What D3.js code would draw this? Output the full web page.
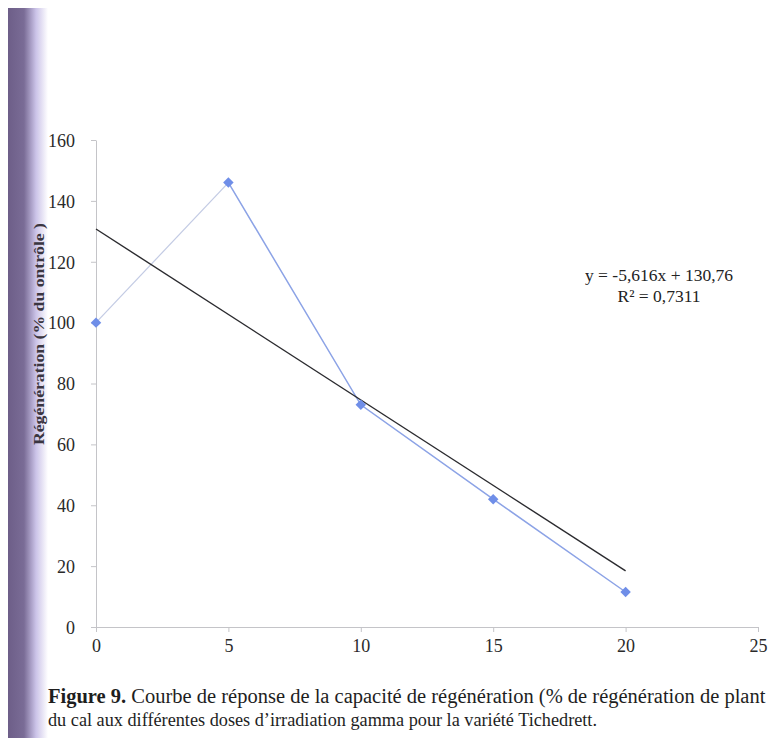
<!DOCTYPE html>
<html>
<head>
<meta charset="utf-8">
<script src="https://cdn.jsdelivr.net/npm/d3@7"></script>
<style>
  body { margin: 0; background: #fff; overflow: hidden; }
  svg { display: block; }
</style>
</head>
<body>
<svg id="chart"></svg>
<script>
// dose (Gy) and regeneration (% of control)
const doses = [0, 5, 10, 15, 20];
const regeneration = [100, 146, 73, 42, 11.5];
const xTicks = [0, 5, 10, 15, 20, 25];
const yTicks = [0, 20, 40, 60, 80, 100, 120, 140, 160];
const slope = -5.616;
const intercept = 130.76;
const equationLines = ["y = -5,616x + 130,76", "R² = 0,7311"];

const width = 768;
const height = 738;
const serif = "'Liberation Serif', 'DejaVu Serif', serif";

const svg = d3.select("#chart").attr("width", width).attr("height", height);

// scan shadow on the left edge
const grad = svg.append("defs").append("linearGradient").attr("id", "band");
grad.append("stop").attr("offset", "0%").attr("stop-color", "#6d5e88");
grad.append("stop").attr("offset", "40%").attr("stop-color", "#7a6c96");
grad.append("stop").attr("offset", "70%").attr("stop-color", "#cbc3e8");
grad.append("stop").attr("offset", "100%").attr("stop-color", "#ffffff");
svg.append("rect")
  .attr("x", 8).attr("y", 8)
  .attr("width", 40).attr("height", height - 8)
  .attr("fill", "url(#band)");

const x = d3.scaleLinear().domain([0, 25]).range([96, 758]);
const y = d3.scaleLinear().domain([0, 160]).range([627, 140]);

const xAxis = d3.axisBottom(x).tickValues(xTicks).tickSize(5).tickSizeOuter(0);
const yAxis = d3.axisLeft(y).tickValues(yTicks).tickSize(5).tickSizeOuter(0);

const gx = svg.append("g")
  .attr("transform", `translate(0, ${y(0)})`)
  .call(xAxis);
const gy = svg.append("g")
  .attr("transform", `translate(${x(0)}, 0)`)
  .call(yAxis);

[gx, gy].forEach(g => {
  g.select(".domain").attr("stroke", "#c4c4c8");
  g.selectAll(".tick line").attr("stroke", "#c4c4c8");
  g.selectAll(".tick text")
    .attr("fill", "#2a2a2a")
    .style("font-family", serif)
    .style("font-size", "18px");
});
gx.selectAll(".tick text").attr("dy", "0.95em");
gy.selectAll(".tick text").attr("x", -21).attr("dy", "0.35em");

// data line, first segment paler as in the print
const pts = doses.map((d, i) => [d, regeneration[i]]);
const line = d3.line().x(d => x(d[0])).y(d => y(d[1]));
svg.append("path")
  .datum(pts.slice(0, 2))
  .attr("d", line)
  .attr("fill", "none")
  .attr("stroke", "#c3cbe4")
  .attr("stroke-width", 1.2);
svg.append("path")
  .datum(pts.slice(1))
  .attr("d", line)
  .attr("fill", "none")
  .attr("stroke", "#8ca3e6")
  .attr("stroke-width", 1.5);

// linear trend line
const trendX = d3.extent(doses);
svg.append("line")
  .attr("x1", x(trendX[0])).attr("y1", y(intercept + slope * trendX[0]))
  .attr("x2", x(trendX[1])).attr("y2", y(intercept + slope * trendX[1]))
  .attr("stroke", "#2b2b2f")
  .attr("stroke-width", 1.4);

// diamond markers
svg.selectAll(".pt")
  .data(pts)
  .enter()
  .append("path")
  .attr("class", "pt")
  .attr("d", d3.symbol().type(d3.symbolDiamond2).size(70))
  .attr("transform", d => `translate(${x(d[0])}, ${y(d[1])})`)
  .attr("fill", "#6f8ee8");

// equation
svg.selectAll(".eq")
  .data(equationLines)
  .enter()
  .append("text")
  .attr("class", "eq")
  .attr("x", 659)
  .attr("y", (d, i) => 281 + i * 21)
  .attr("text-anchor", "middle")
  .style("font-family", serif)
  .style("font-size", "17.5px")
  .attr("fill", "#222")
  .text(d => d);

// y-axis label
svg.append("text")
  .attr("transform", "rotate(-90)")
  .attr("x", -334)
  .attr("y", 44)
  .attr("text-anchor", "middle")
  .attr("textLength", 222)
  .attr("lengthAdjust", "spacingAndGlyphs")
  .style("font-family", serif)
  .style("font-size", "15px")
  .style("font-weight", "bold")
  .attr("fill", "#3a3540")
  .text("Régénération (% du ontrôle )");

// caption
const cap1 = svg.append("text")
  .attr("x", 48).attr("y", 703)
  .style("font-family", serif)
  .style("font-size", "20.5px")
  .attr("fill", "#1e1e1e");
cap1.append("tspan").style("font-weight", "bold").text("Figure 9.");
cap1.append("tspan").text(" Courbe de réponse de la capacité de régénération (% de régénération de plant");

svg.append("text")
  .attr("x", 48).attr("y", 726)
  .attr("textLength", 549)
  .attr("lengthAdjust", "spacingAndGlyphs")
  .style("font-family", serif)
  .style("font-size", "19px")
  .attr("fill", "#1e1e1e")
  .text("du cal aux différentes doses d’irradiation gamma pour la variété Tichedrett.");
</script>
</body>
</html>
